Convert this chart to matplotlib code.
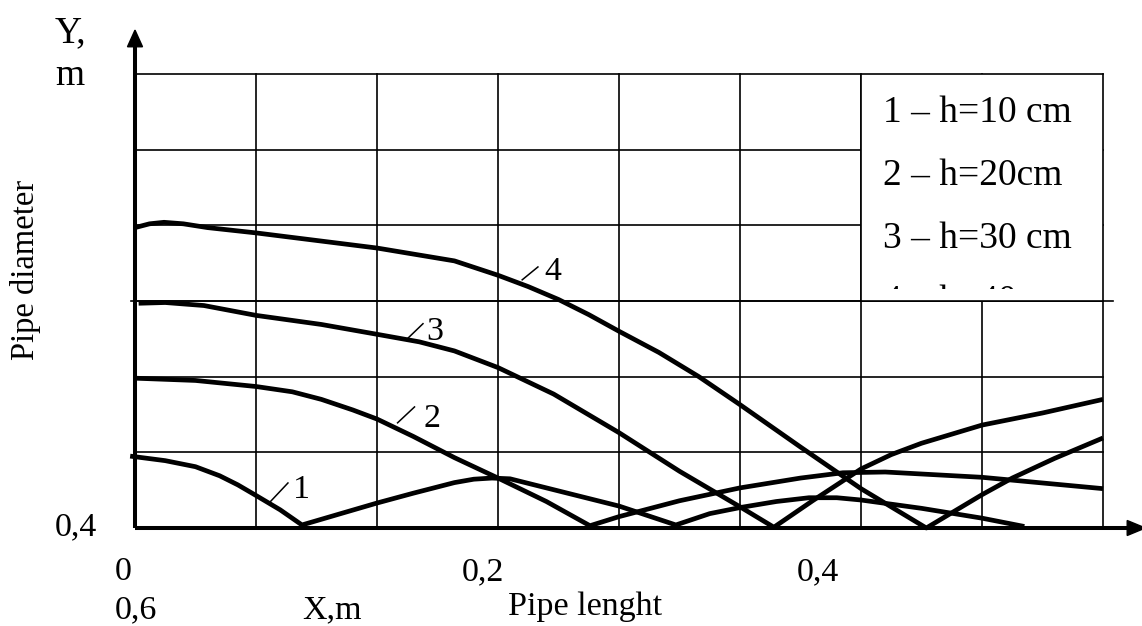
#! /usr/bin/env python3
"""
Pipe diameter versus pipe length for four water heads h.

Coordinates of the curves are in grid cells of the drawing:
x runs over 8 columns, y over 6 rows.
"""

from matplotlib.patches import Polygon, Rectangle
import matplotlib.pyplot as plt

curve1_x = [-0.04, 0.25, 0.5, 0.7, 0.85, 1.0, 1.2, 1.38, 1.7, 2.0, 2.3,
            2.64, 2.8, 2.95, 3.1, 3.5, 4.0, 4.47, 4.75, 5.0, 5.3, 5.57, 5.8,
            6.0, 6.5, 7.0, 7.35]
curve1_y = [0.95, 0.89, 0.81, 0.69, 0.57, 0.43, 0.24, 0.04, 0.19, 0.33, 0.46,
            0.6, 0.645, 0.66, 0.65, 0.49, 0.29, 0.04, 0.19, 0.27, 0.35, 0.4,
            0.4, 0.37, 0.26, 0.13, 0.02]
curve2_x = [0.0, 0.5, 1.0, 1.3, 1.54, 1.8, 2.0, 2.3, 2.64, 3.0, 3.4, 3.76,
            4.0, 4.5, 5.0, 5.5, 5.85, 6.2, 7.0, 8.0]
curve2_y = [1.98, 1.95, 1.87, 1.8, 1.7, 1.56, 1.44, 1.21, 0.93, 0.66, 0.35,
            0.03, 0.15, 0.36, 0.53, 0.66, 0.73, 0.74, 0.67, 0.52]
curve3_x = [0.03, 0.25, 0.57, 1.0, 1.54, 2.0, 2.35, 2.64, 3.0, 3.46, 4.0,
            4.5, 5.0, 5.28, 5.6, 6.0, 6.25, 6.5, 7.0, 7.5, 8.0]
curve3_y = [2.97, 2.98, 2.94, 2.81, 2.69, 2.56, 2.46, 2.34, 2.12, 1.77, 1.26,
            0.75, 0.28, 0.01, 0.36, 0.78, 0.97, 1.12, 1.36, 1.52, 1.70]
curve4_x = [0.0, 0.12, 0.24, 0.4, 0.6, 1.0, 1.5, 2.0, 2.64, 3.0, 3.25, 3.5,
            3.75, 4.0, 4.33, 4.66, 5.0, 5.5, 6.0, 6.54, 7.0, 7.25, 7.6, 8.0]
curve4_y = [3.97, 4.02, 4.04, 4.02, 3.97, 3.9, 3.8, 3.7, 3.53, 3.34, 3.19,
            3.02, 2.82, 2.6, 2.32, 2.0, 1.63, 1.07, 0.52, 0.0, 0.44, 0.66,
            0.92, 1.19]
legend_labels = ["1 \u2013 h=10 cm", "2 \u2013 h=20cm", "3 \u2013 h=30 cm",
                 "4 \u2013 h=40 cm"]
x_tick_labels = ["0", "0,2", "0,4"]


def main():
    plt.rcParams["font.family"] = ["Liberation Serif", "DejaVu Serif"]
    fig = plt.figure(figsize=(11.42, 6.26), dpi=100)
    ax = fig.add_axes([135 / 1142, 98 / 626, 968 / 1142, 454 / 626])
    ax.set_xlim(0, 8)
    ax.set_ylim(0, 6)
    ax.axis("off")
    draw_grid(ax=ax)
    draw_axes(ax=ax)
    draw_curves(ax=ax)
    draw_legend(ax=ax)
    draw_texts(ax=ax)
    fig.savefig("out.png", dpi=100, facecolor="white")


def draw_grid(*, ax):
    grid = dict(color="black", linewidth=1.2, clip_on=False, zorder=1)
    for col in range(1, 9):
        ax.plot([col, col], [0, 6], **grid)
    for row in range(1, 7):
        ax.plot([0, 8], [row, row], **grid)
    ax.plot([-0.035, 8.08], [3, 3], **grid)


def draw_axes(*, ax):
    axis = dict(color="black", linewidth=2.9, clip_on=False, zorder=5,
                solid_capstyle="butt")
    ax.plot([0, 0], [0, 6.4], **axis)
    ax.plot([0, 8.22], [0, 0], **axis)
    ax.add_patch(Polygon([[0, 6.58], [-0.062, 6.36], [0.062, 6.36]],
                         closed=True, color="black", clip_on=False, zorder=5))
    ax.add_patch(Polygon([[8.35, 0], [8.2, 0.099], [8.2, -0.099]],
                         closed=True, color="black", clip_on=False, zorder=5))


def draw_curves(*, ax):
    style = dict(color="black", linewidth=3.4, clip_on=False, zorder=4,
                 solid_joinstyle="round", solid_capstyle="butt")
    for xs, ys in [(curve1_x, curve1_y), (curve2_x, curve2_y),
                   (curve3_x, curve3_y), (curve4_x, curve4_y)]:
        ax.plot(xs, ys, **style)
    # leader ticks and numbers
    marks = [
        ("1", (1.116, 1.264), (0.344, 0.595), (1.38, 0.40)),
        ("2", (2.17, 2.31), (1.39, 1.60), (2.455, 1.335)),
        ("3", (2.25, 2.38), (2.50, 2.70), (2.48, 2.48)),
        ("4", (3.20, 3.33), (3.28, 3.45), (3.455, 3.28)),
    ]
    for label, tx, ty, pos in marks:
        ax.plot(tx, ty, color="black", linewidth=1.1, zorder=4)
        ax.text(pos[0], pos[1], label, fontsize=24.5, ha="center",
                va="baseline", zorder=6)


def draw_legend(*, ax):
    box = Rectangle((6, 3), 2, 3, facecolor="white", edgecolor="black",
                    linewidth=1.2, zorder=2)
    ax.add_patch(box)
    clip = Rectangle((6, 3.165), 2, 2.835, transform=ax.transData,
                     fill=False, visible=False)
    ax.add_patch(clip)
    baselines = [5.365, 4.53, 3.70, 2.87]
    for label, base in zip(legend_labels, baselines):
        txt = ax.text(6.18, base, label, fontsize=27, ha="left",
                      va="baseline", zorder=3)
        txt.set_clip_path(clip)
        txt.set_clip_on(True)


def draw_texts(*, ax):
    common = dict(ha="left", va="baseline", clip_on=False)
    ax.text(-0.661, 6.42, "Y,", fontsize=27, **common)
    ax.text(-0.661, 5.85, "m", fontsize=27, **common)
    ax.text(-0.909, 3.41, "Pipe diameter", fontsize=23.5, rotation=90,
            ha="center", va="center", clip_on=False)
    ax.text(-0.661, -0.093, "0,4", fontsize=24.5, **common)
    for label, left in zip(x_tick_labels, [-0.165, 2.70, 5.47]):
        ax.text(left, -0.687, label, fontsize=24.5, **common)
    ax.text(-0.165, -1.189, "0,6", fontsize=24.5, **common)
    ax.text(1.38, -1.189, "X,m", fontsize=24.5, **common)
    ax.text(3.08, -1.15, "Pipe lenght", fontsize=24.5, **common)


if __name__ == "__main__":
    main()
